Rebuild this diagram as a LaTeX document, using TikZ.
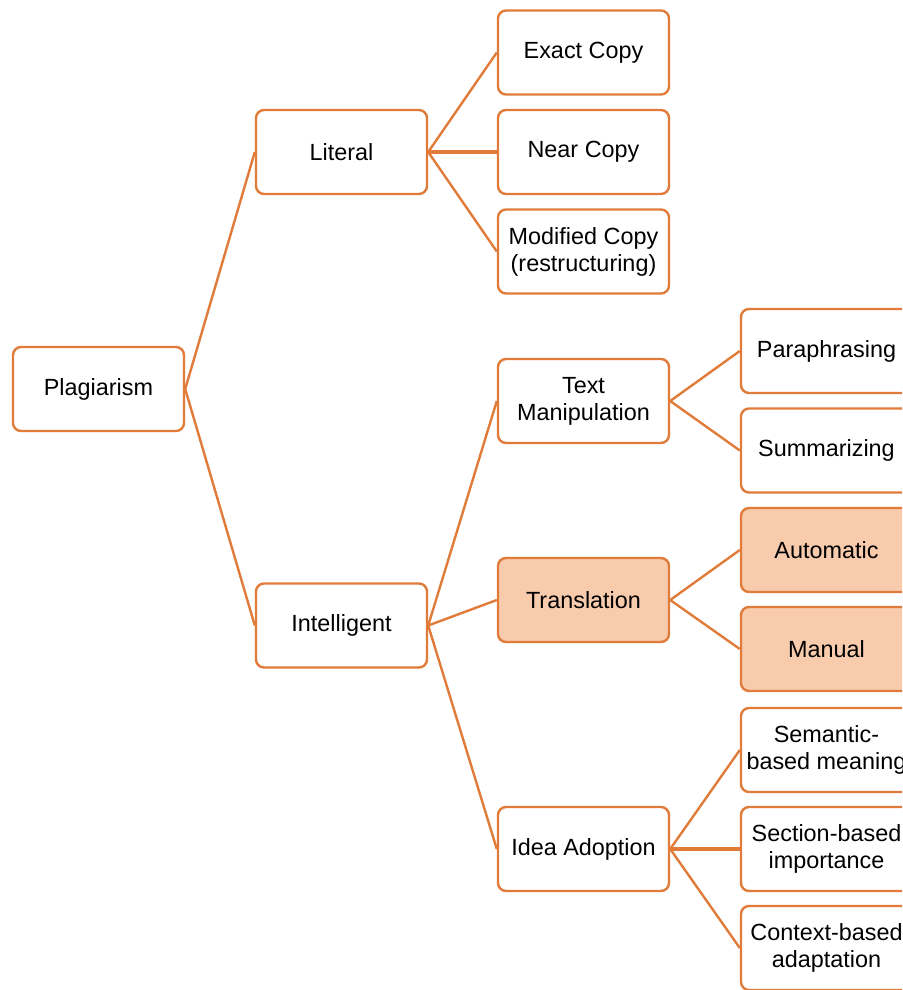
\documentclass[tikz,border=0pt]{standalone}
\usepackage{fontspec}
\setmainfont{Liberation Sans}
\definecolor{edge}{HTML}{E07B39}
\definecolor{peach}{HTML}{F8CBAD}
\tikzset{
  box/.style={draw=edge, line width=2.4pt, rounded corners=8pt, fill=white,
    minimum width=171pt, minimum height=84pt, align=center, inner sep=2pt,
    font=\fontsize{23.4}{27}\selectfont, text=black},
  hot/.style={box, fill=peach},
  link/.style={draw=edge, line width=2.4pt},
  flat/.style={draw=edge, line width=3.6pt}
}
\begin{document}
\begin{tikzpicture}[x=1pt, y=-1pt]
\useasboundingbox (0,0) rectangle (902,990);
\clip (0,0) rectangle (902,990);

% root and first level
\node[box] (plag) at (98.5,389) {Plagiarism};
\node[box] (lit) at (341.5,152) {Literal};
\node[box] (intel) at (341.5,625.5) {Intelligent};

% second level
\node[box] (exact) at (583.5,52.5) {Exact Copy};
\node[box] (near) at (583.5,152) {Near Copy};
\node[box] (mod) at (583.5,251.5) {Modified Copy\\(restructuring)};
\node[box] (textm) at (583.5,401) {Text\\Manipulation};
\node[hot] (trans) at (583.5,600) {Translation};
\node[box] (idea) at (583.5,849) {Idea Adoption};

% third level
\node[box] (para) at (826.5,351) {Paraphrasing};
\node[box] (summ) at (826.5,450.5) {Summarizing};
\node[hot] (auto) at (826.5,550) {Automatic};
\node[hot] (man) at (826.5,649) {Manual};
\node[box] (sem) at (826.5,750) {Semantic-\\based meaning};
\node[box] (sec) at (826.5,849) {Section-based\\importance};
\node[box] (ctx) at (826.5,948) {Context-based\\adaptation};

% connectors
\draw[link] (plag.east) -- (lit.west);
\draw[link] (plag.east) -- (intel.west);
\draw[link] (lit.east) -- (exact.west);
\draw[flat] (lit.east) -- (near.west);
\draw[link] (lit.east) -- (mod.west);
\draw[link] (intel.east) -- (textm.west);
\draw[link] (intel.east) -- (trans.west);
\draw[link] (intel.east) -- (idea.west);
\draw[link] (textm.east) -- (para.west);
\draw[link] (textm.east) -- (summ.west);
\draw[link] (trans.east) -- (auto.west);
\draw[link] (trans.east) -- (man.west);
\draw[link] (idea.east) -- (sem.west);
\draw[flat] (idea.east) -- (sec.west);
\draw[link] (idea.east) -- (ctx.west);
\end{tikzpicture}
\end{document}
